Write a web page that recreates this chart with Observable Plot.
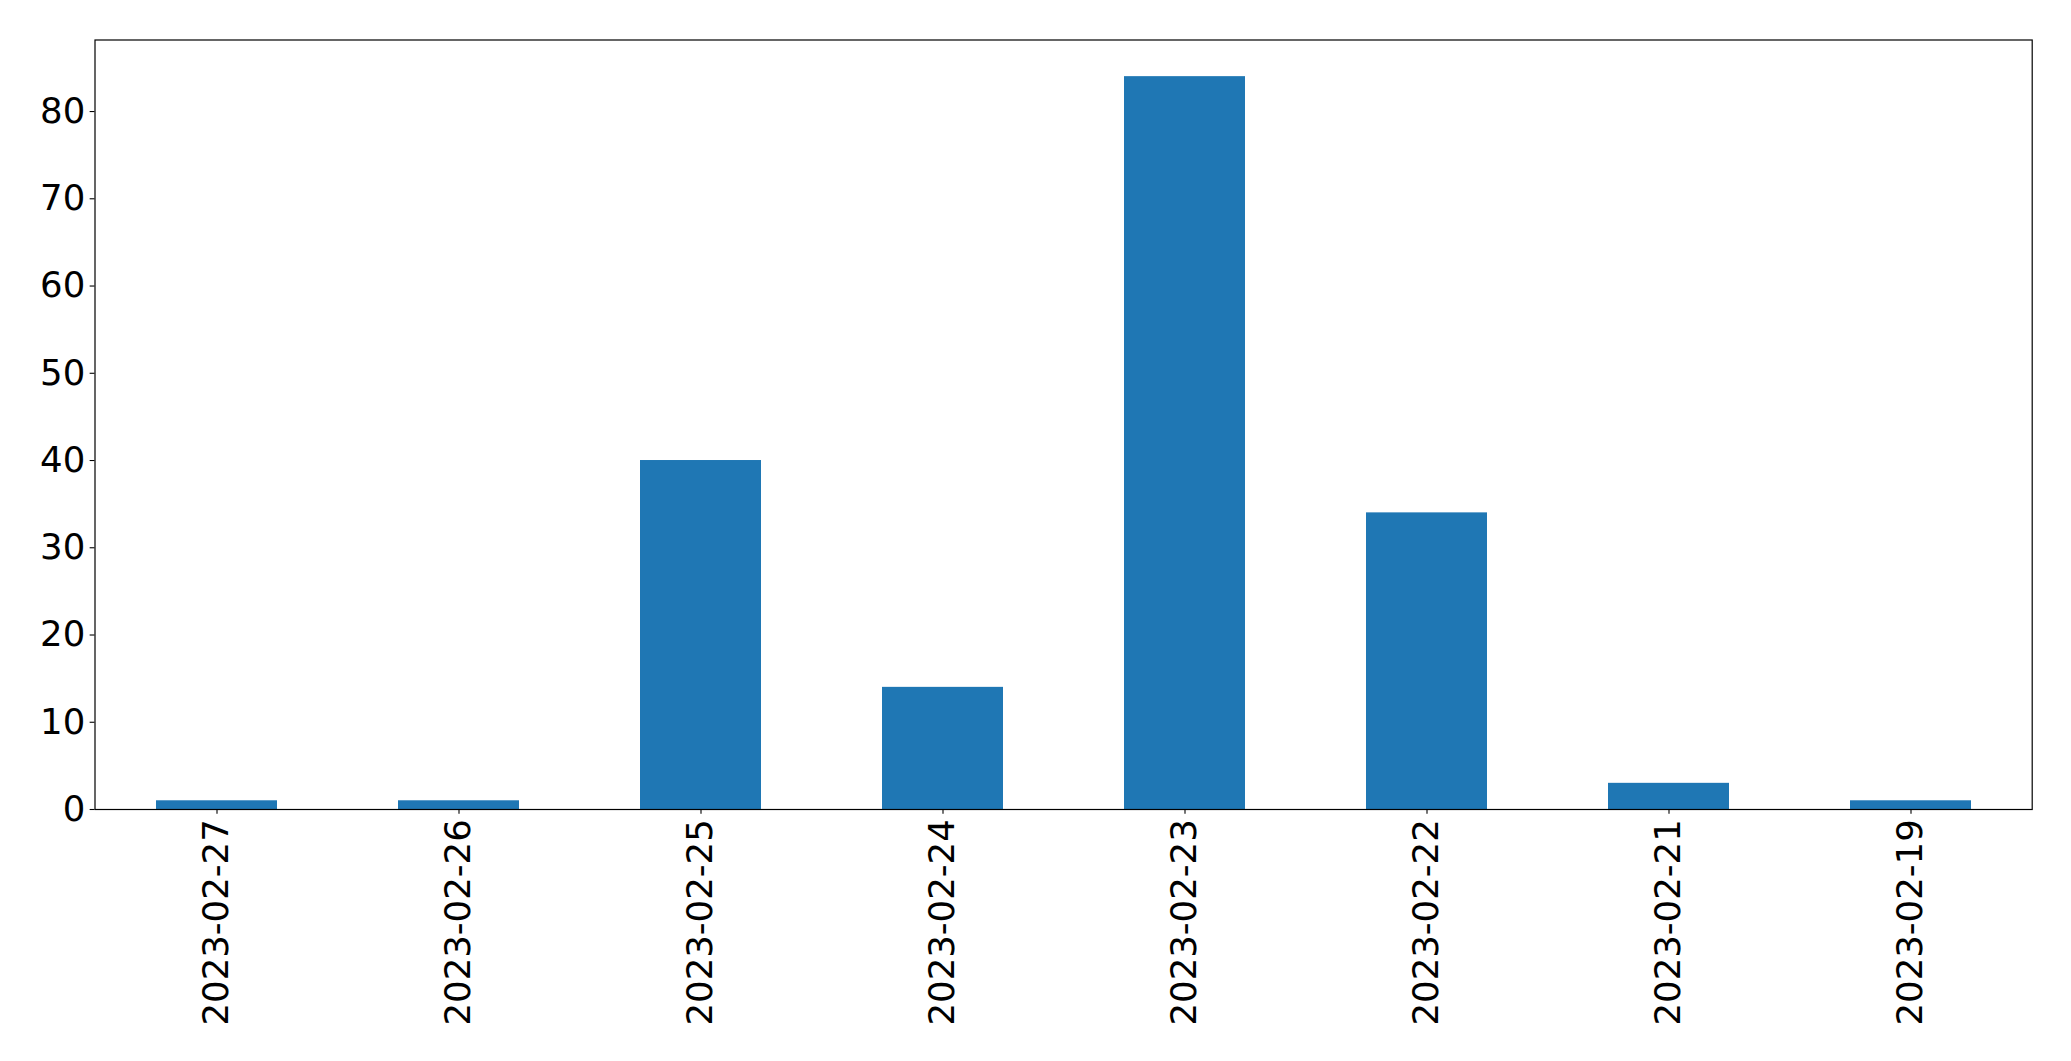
<!DOCTYPE html>
<html>
<head>
<meta charset="utf-8">
<script src="https://cdn.jsdelivr.net/npm/d3@7"></script>
<script src="https://cdn.jsdelivr.net/npm/@observablehq/plot@0.6"></script>
<style>
  html, body { margin: 0; padding: 0; background: #fff; overflow: hidden; }
  #chart svg { display: block; }
</style>
</head>
<body>
<div id="chart"></div>
<script>
const dates = ["2023-02-27", "2023-02-26", "2023-02-25", "2023-02-24", "2023-02-23", "2023-02-22", "2023-02-21", "2023-02-19"];
const counts = [1, 1, 40, 14, 84, 34, 3, 1];
const yTicks = [0, 10, 20, 30, 40, 50, 60, 70, 80];

const data = dates.map((d, i) => ({date: d, count: counts[i]}));
const fs = 35.5;
const tick = 4.86;

const chart = Plot.plot({
  width: 2071,
  height: 1061,
  marginLeft: 94.5,
  marginRight: 39.3,
  marginTop: 39.5,
  marginBottom: 252,
  style: {fontFamily: "DejaVu Sans", color: "black", background: "white"},
  x: {type: "band", domain: dates, paddingInner: 0.5, paddingOuter: 0.25},
  y: {domain: [0, 88.2]},
  marks: [
    Plot.barY(data, {x: "date", y: "count", fill: "#1f77b4", insetLeft: 0, insetRight: 0}),
    Plot.axisY({ticks: yTicks, tickSize: tick, tickPadding: tick, fontSize: fs, tickFormat: d => String(d), label: null, strokeWidth: 1.1}),
    Plot.axisX({tickRotate: -90, tickSize: tick, tickPadding: tick, fontSize: fs, label: null, strokeWidth: 1.1}),
    Plot.frame({stroke: "black", strokeWidth: 1.2})
  ]
});
document.getElementById("chart").appendChild(chart);
</script>
</body>
</html>
